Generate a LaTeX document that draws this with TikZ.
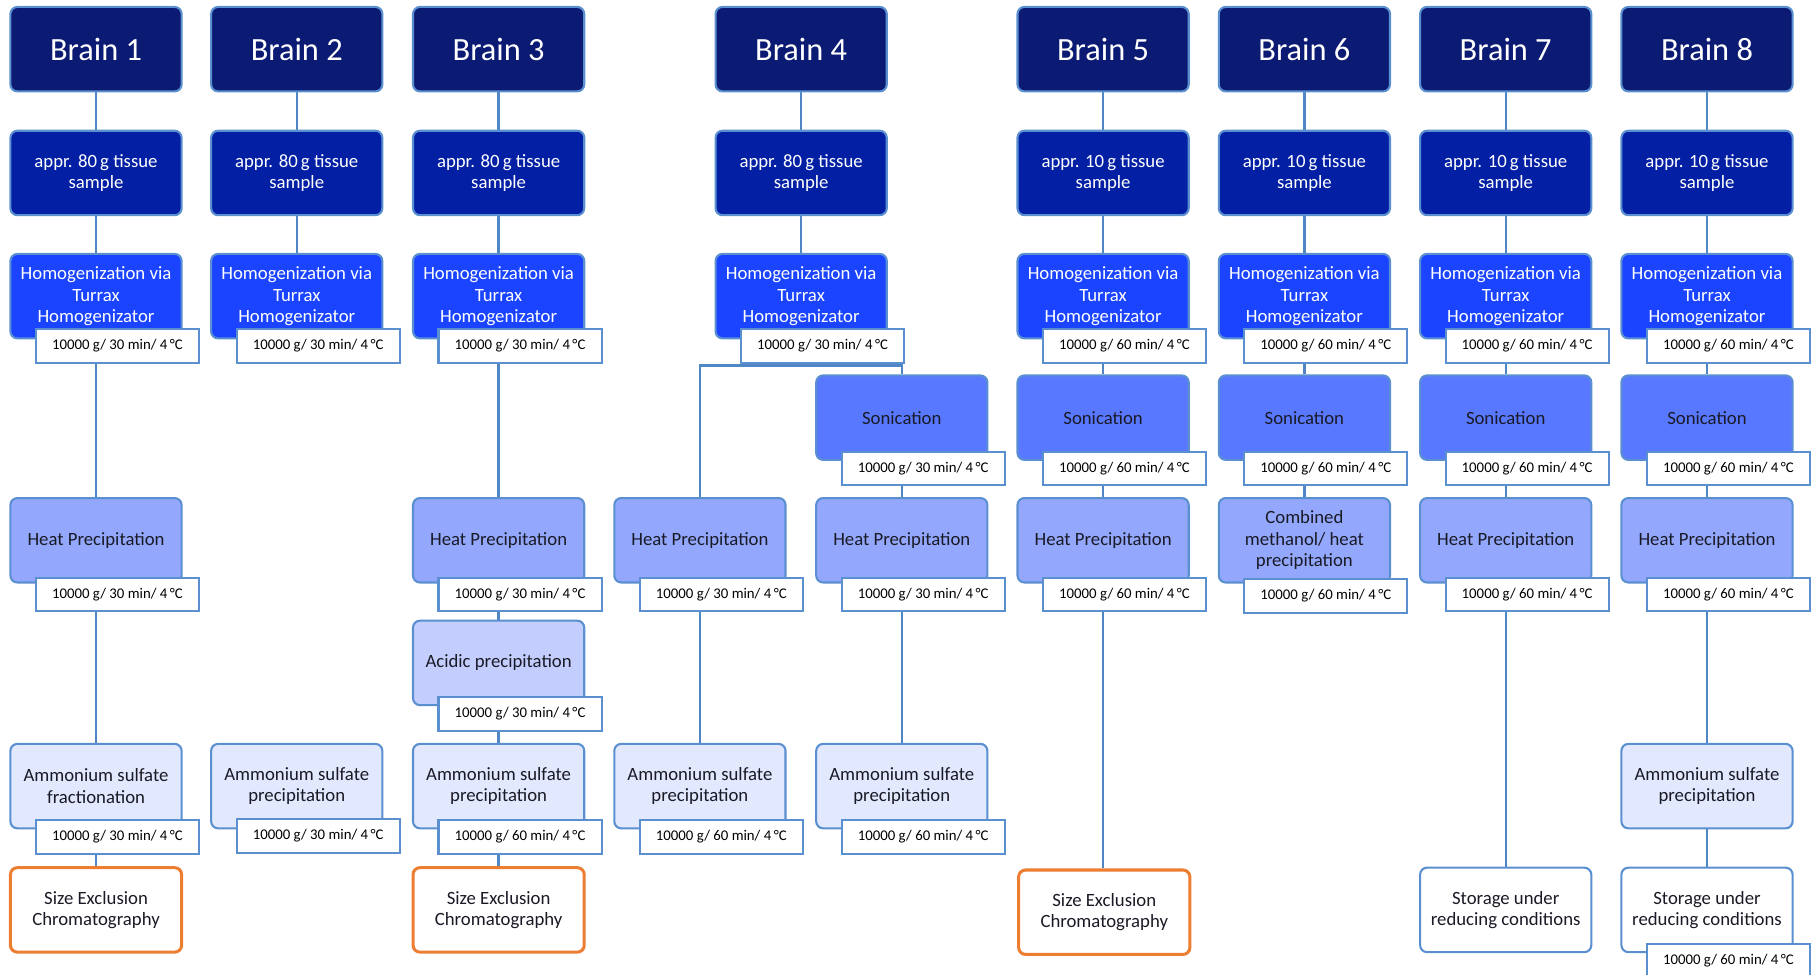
\documentclass[tikz,border=0pt]{standalone}
\usepackage{fontspec}
\setmainfont{Carlito}
\usetikzlibrary{calc,backgrounds}
\definecolor{cbrain}{HTML}{0B1A72}
\definecolor{cappr}{HTML}{0320A5}
\definecolor{chomo}{HTML}{1A44FF}
\definecolor{cson}{HTML}{5878FF}
\definecolor{cheat}{HTML}{93A8FD}
\definecolor{cacid}{HTML}{C4CEFE}
\definecolor{camm}{HTML}{E2E8FD}
\definecolor{bord}{HTML}{5A8FD0}
\definecolor{cline}{HTML}{4F86C6}
\definecolor{corange}{HTML}{ED7D31}
\definecolor{ctext}{HTML}{1A1A26}
\newcommand{\mklab}[4][44]{\node[lab] (#2) at ($(#3.center)+(18.5,#1)$) {#4};}
\begin{document}
\begin{tikzpicture}[x=0.5pt,y=-0.5pt,
 base/.style={rounded corners=3pt, draw=bord, line width=0.9pt, minimum width=74pt, minimum height=36.5pt, align=center, inner sep=1pt, font=\fontsize{8.1}{9.2}\selectfont},
 brainbox/.style={base, fill=cbrain, text=white, font=\fontsize{14}{16}\selectfont},
 apprbox/.style={base, fill=cappr, text=white},
 homobox/.style={base, fill=chomo, text=white},
 sonibox/.style={base, fill=cson, text=ctext},
 heatbox/.style={base, fill=cheat, text=ctext},
 acidbox/.style={base, fill=cacid, text=ctext},
 ammbox/.style={base, fill=camm, text=ctext},
 secbox/.style={base, fill=white, draw=corange, line width=1.3pt, text=ctext},
 storebox/.style={base, fill=white, text=ctext},
 lab/.style={draw=bord, fill=white, line width=0.9pt, minimum width=70.5pt, minimum height=14.5pt, inner sep=0pt, font=\fontsize{6.4}{7}\selectfont, text=black},
 conn/.style={draw=cline, line width=1pt}]
\useasboundingbox (0,0) rectangle (1568,842);
\def\tA{10000 g/ 30 min/ 4\,°C}
\def\tB{10000 g/ 60 min/ 4\,°C}
% brains
\node[brainbox] (b1) at (83,42.5) {Brain 1};
\node[brainbox] (b2) at (256.5,42.5) {Brain 2};
\node[brainbox] (b3) at (431,42.5) {Brain 3};
\node[brainbox] (b4) at (692.5,42.5) {Brain 4};
\node[brainbox] (b5) at (953.5,42.5) {Brain 5};
\node[brainbox] (b6) at (1127.5,42.5) {Brain 6};
\node[brainbox] (b7) at (1301.5,42.5) {Brain 7};
\node[brainbox] (b8) at (1475.5,42.5) {Brain 8};
% samples
\node[apprbox] (a1) at (83,149.5) {appr. 80\,g tissue\\sample};
\node[apprbox] (a2) at (256.5,149.5) {appr. 80\,g tissue\\sample};
\node[apprbox] (a3) at (431,149.5) {appr. 80\,g tissue\\sample};
\node[apprbox] (a4) at (692.5,149.5) {appr. 80\,g tissue\\sample};
\node[apprbox] (a5) at (953.5,149.5) {appr. 10\,g tissue\\sample};
\node[apprbox] (a6) at (1127.5,149.5) {appr. 10\,g tissue\\sample};
\node[apprbox] (a7) at (1301.5,149.5) {appr. 10\,g tissue\\sample};
\node[apprbox] (a8) at (1475.5,149.5) {appr. 10\,g tissue\\sample};
% homogenization
\foreach \n/\x in {1/83,2/256.5,3/431,4/692.5,5/953.5,6/1127.5,7/1301.5,8/1475.5}
  \node[homobox] (h\n) at (\x,256) {Homogenization via\\Turrax\\Homogenizator};
\mklab[43]{lh1}{h1}{\tA}
\mklab[43]{lh2}{h2}{\tA}
\mklab[43]{lh3}{h3}{\tA}
\mklab[43]{lh4}{h4}{\tA}
\mklab[43]{lh5}{h5}{\tB}
\mklab[43]{lh6}{h6}{\tB}
\mklab[43]{lh7}{h7}{\tB}
\mklab[43]{lh8}{h8}{\tB}
% sonication
\node[sonibox] (s4) at (779.5,361) {Sonication};
\node[sonibox] (s5) at (953.5,361) {Sonication};
\node[sonibox] (s6) at (1127.5,361) {Sonication};
\node[sonibox] (s7) at (1301.5,361) {Sonication};
\node[sonibox] (s8) at (1475.5,361) {Sonication};
\mklab{ls4}{s4}{\tA}
\mklab{ls5}{s5}{\tB}
\mklab{ls6}{s6}{\tB}
\mklab{ls7}{s7}{\tB}
\mklab{ls8}{s8}{\tB}
% heat precipitation
\node[heatbox] (p1) at (83,467) {Heat Precipitation};
\node[heatbox] (p3) at (431,467) {Heat Precipitation};
\node[heatbox] (p4a) at (605,467) {Heat Precipitation};
\node[heatbox] (p4b) at (779.5,467) {Heat Precipitation};
\node[heatbox] (p5) at (953.5,467) {Heat Precipitation};
\node[heatbox] (p6) at (1127.5,467) {Combined\\methanol/ heat\\precipitation};
\node[heatbox] (p7) at (1301.5,467) {Heat Precipitation};
\node[heatbox] (p8) at (1475.5,467) {Heat Precipitation};
\mklab[47]{lp1}{p1}{\tA}
\mklab[47]{lp3}{p3}{\tA}
\mklab[47]{lp4a}{p4a}{\tA}
\mklab[47]{lp4b}{p4b}{\tA}
\mklab[47]{lp5}{p5}{\tB}
\mklab[48]{lp6}{p6}{\tB}
\mklab[47]{lp7}{p7}{\tB}
\mklab[47]{lp8}{p8}{\tB}
% acidic
\node[acidbox] (c3) at (431,573) {Acidic precipitation};
\mklab{lc3}{c3}{\tA}
% ammonium
\node[ammbox] (m1) at (83,679.5) {Ammonium sulfate\\fractionation};
\node[ammbox] (m2) at (256.5,679.5) {Ammonium sulfate\\precipitation};
\node[ammbox] (m3) at (431,679.5) {Ammonium sulfate\\precipitation};
\node[ammbox] (m4a) at (605,679.5) {Ammonium sulfate\\precipitation};
\node[ammbox] (m4b) at (779.5,679.5) {Ammonium sulfate\\precipitation};
\node[ammbox] (m8) at (1475.5,679.5) {Ammonium sulfate\\precipitation};
\mklab{lm1}{m1}{\tA}
\mklab[43]{lm2}{m2}{\tA}
\mklab{lm3}{m3}{\tB}
\mklab{lm4a}{m4a}{\tB}
\mklab{lm4b}{m4b}{\tB}
% final
\node[secbox] (f1) at (83,786.5) {Size Exclusion\\Chromatography};
\node[secbox] (f3) at (431,786.5) {Size Exclusion\\Chromatography};
\node[secbox] (f5) at (954.5,788.5) {Size Exclusion\\Chromatography};
\node[storebox] (f7) at (1301.5,786.5) {Storage under\\reducing conditions};
\node[storebox] (f8) at (1475.5,786.5) {Storage under\\reducing conditions};
\mklab{lf8}{f8}{\tB}
\coordinate (j4) at (692.5,316);
\begin{scope}[on background layer]
\draw[conn] (b1) -- (a1) -- (h1) -- (p1) -- (m1) -- (f1);
\draw[conn] (b2) -- (a2) -- (h2);
\draw[conn] (b3) -- (a3) -- (h3) -- (p3) -- (c3) -- (m3) -- (f3);
\draw[conn] (b4) -- (a4) -- (h4) -- (j4);
\draw[conn] (p4a.north) |- (j4) -| (s4.north);
\draw[conn] (p4a) -- (m4a);
\draw[conn] (s4) -- (p4b) -- (m4b);
\draw[conn] (b5) -- (a5) -- (h5) -- (s5) -- (p5) -- (f5.north -| p5);
\draw[conn] (b6) -- (a6) -- (h6) -- (s6) -- (p6);
\draw[conn] (b7) -- (a7) -- (h7) -- (s7) -- (p7) -- (f7);
\draw[conn] (b8) -- (a8) -- (h8) -- (s8) -- (p8) -- (m8) -- (f8);
\end{scope}
\end{tikzpicture}
\end{document}
